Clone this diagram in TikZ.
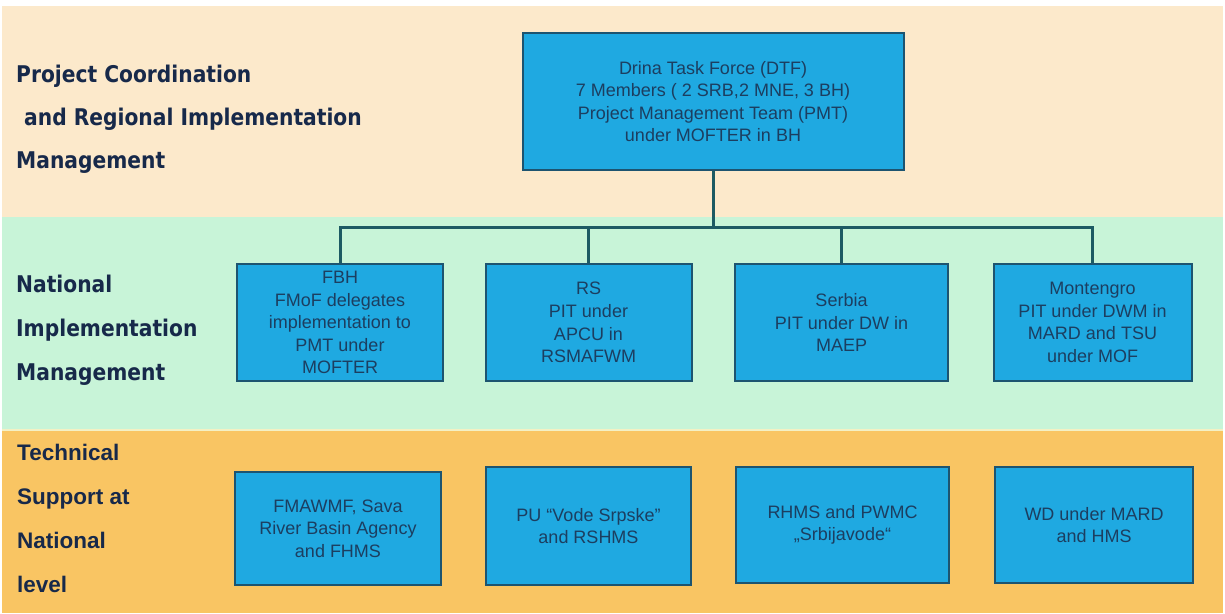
\documentclass[tikz,border=0pt]{standalone}
\usepackage{fontspec}
\setmainfont{Liberation Sans}
\newfontfamily\labfont[FakeStretch=0.88]{DejaVu Sans}
\definecolor{peach}{HTML}{FCE9CB}
\definecolor{mint}{HTML}{C8F4D8}
\definecolor{paleline}{HTML}{F4F0C4}
\definecolor{band}{HTML}{F9C563}
\definecolor{boxblue}{HTML}{1FA9E1}
\definecolor{boxborder}{HTML}{1D5470}
\definecolor{conncol}{HTML}{1D5A63}
\definecolor{labcol}{HTML}{17294A}
\definecolor{boxtext}{HTML}{1C3E60}
\tikzset{
  orgbox/.style={draw=boxborder, line width=2pt, fill=boxblue, text=boxtext,
    align=center, inner sep=0pt, font=\fontsize{18}{22.6}\selectfont},
  conn/.style={draw=conncol, line width=3pt},
  sidelab/.style={anchor=base west, inner sep=0pt, text=labcol,
    font=\labfont\bfseries\fontsize{23}{27}\selectfont},
  sidelabb/.style={anchor=base west, inner sep=0pt, text=labcol,
    font=\bfseries\fontsize{22.5}{27}\selectfont}
}
\begin{document}
\begin{tikzpicture}[x=1pt,y=-1pt]
\useasboundingbox (0,0) rectangle (1225,613);
\fill[white] (0,0) rectangle (1225,613);
\fill[peach] (2,6) rectangle (1223,217);
\fill[mint] (2,217) rectangle (1223,429);
\fill[paleline] (2,429) rectangle (1223,431);
\fill[band] (2,431) rectangle (1223,613);

% side labels
\node[sidelab] (l1a) at (16,82) {Project Coordination};
\node[sidelab] (l1b) at (24,125.5) {and Regional Implementation};
\node[sidelab] (l1c) at (16,168.5) {Management};
\node[sidelab] (l2a) at (16,292) {National};
\node[sidelab] (l2b) at (16,336) {Implementation};
\node[sidelab] (l2c) at (16,380) {Management};
\node[sidelabb] (l3a) at (17,460) {Technical};
\node[sidelabb] (l3b) at (17,504) {Support at};
\node[sidelabb] (l3c) at (17,548) {National};
\node[sidelabb] (l3d) at (17,592) {level};

% top box
\node[orgbox, minimum width=381pt, minimum height=137pt] (dtf) at (713,101.5)
  {Drina Task Force (DTF)\\7 Members ( 2 SRB,2 MNE, 3 BH)\\Project Management Team (PMT)\\under MOFTER in BH};

% national boxes
\node[orgbox, minimum width=206pt, minimum height=117pt] (fbh) at (340,322.5)
  {FBH\\FMoF delegates\\implementation to\\PMT under\\MOFTER};
\node[orgbox, minimum width=206pt, minimum height=117pt] (rs) at (588.5,322.5)
  {RS\\PIT under\\APCU in\\RSMAFWM};
\node[orgbox, minimum width=213pt, minimum height=117pt] (srb) at (841.5,322.5)
  {Serbia\\PIT under DW in\\MAEP};
\node[orgbox, minimum width=198pt, minimum height=117pt] (mne) at (1092.5,322.5)
  {Montengro\\PIT under DWM in\\MARD and TSU\\under MOF};

% technical boxes
\node[orgbox, minimum width=206pt, minimum height=113pt] (fma) at (338,528.5)
  {FMAWMF, Sava\\River Basin Agency\\and FHMS};
\node[orgbox, minimum width=205pt, minimum height=118pt] (pu) at (588.5,526)
  {PU “Vode Srpske”\\and RSHMS};
\node[orgbox, minimum width=213pt, minimum height=116pt] (rhms) at (842.5,525)
  {RHMS and PWMC\\„Srbijavode“};
\node[orgbox, minimum width=198pt, minimum height=116pt] (wd) at (1094,525)
  {WD under MARD\\and HMS};

% connectors
\coordinate (bus) at (713,227.5);
\draw[conn] (dtf.south) -- (bus);
\draw[conn] (fbh.north) |- (bus) -| (mne.north);
\draw[conn] (rs.north) -- (rs.north |- bus);
\draw[conn] (srb.north) -- (srb.north |- bus);
\end{tikzpicture}
\end{document}
